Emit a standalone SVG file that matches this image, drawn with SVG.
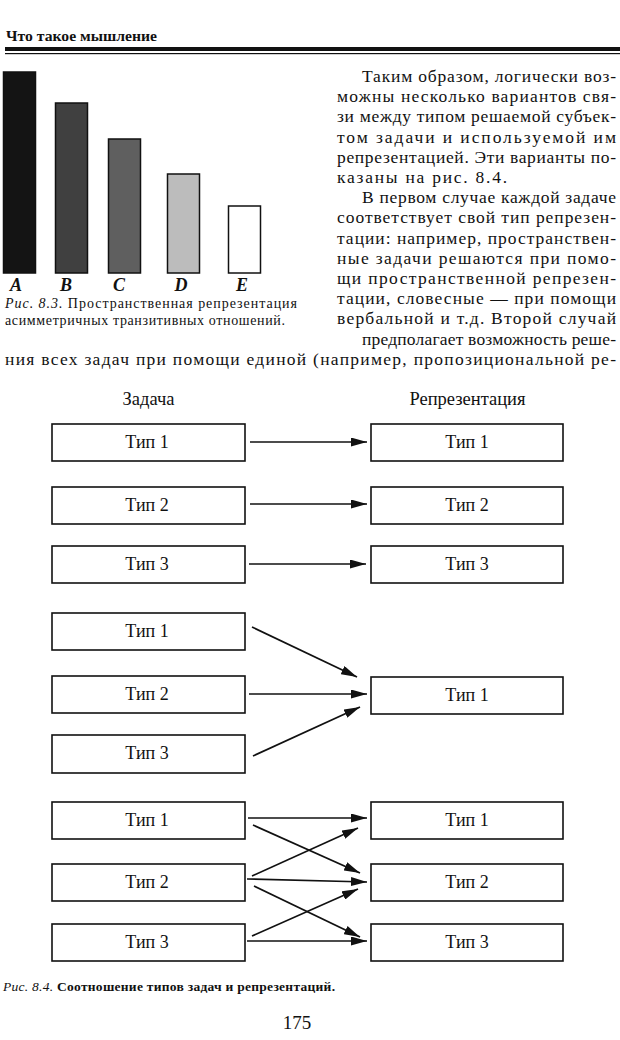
<svg xmlns="http://www.w3.org/2000/svg" width="620" height="1040" viewBox="0 0 620 1040">
<style>
.t{font-family:"Liberation Serif","DejaVu Serif",serif;fill:#111;}
.body{font-size:17.5px;}
.box{fill:#fff;stroke:#111;stroke-width:1.6;}
.lbl{font-size:18px;text-anchor:middle;}
.hdr{font-size:18.5px;text-anchor:middle;}
.cap{font-size:14px;}
.cap2{font-size:13.5px;}
.bar{stroke:#111;stroke-width:1.5;}
.ltr{font-size:18px;font-weight:bold;font-style:italic;text-anchor:middle;}
.arr{stroke:#111;stroke-width:1.7;fill:none;marker-end:url(#ah);}
</style>
<defs>
<marker id="ah" markerUnits="userSpaceOnUse" markerWidth="17" markerHeight="9" refX="16" refY="4.5" orient="auto">
<path d="M0,0 L16,4.5 L0,9 z" fill="#111"/>
</marker>
</defs>
<rect x="0" y="0" width="620" height="1040" fill="#fff"/>

<g id="page-header">
<text class="t" x="6" y="41" font-size="15" font-weight="bold" textLength="151" lengthAdjust="spacingAndGlyphs">Что такое мышление</text>
<rect x="5" y="47" width="615" height="4" fill="#111"/>
<rect x="5" y="53" width="615" height="1.2" fill="#111"/>
</g>

<g id="fig83">
<rect class="bar" x="3.5" y="72" width="32" height="201" fill="#141414"/>
<rect class="bar" x="55.5" y="103" width="32" height="170" fill="#404040"/>
<rect class="bar" x="108.5" y="139" width="32" height="134" fill="#5f5f5f"/>
<rect class="bar" x="167.5" y="174" width="32" height="99" fill="#bcbcbc"/>
<rect class="bar" x="228.5" y="206" width="32" height="67" fill="#fff"/>
<text class="t ltr" x="16" y="291">A</text>
<text class="t ltr" x="66" y="291">B</text>
<text class="t ltr" x="119" y="291">C</text>
<text class="t ltr" x="181" y="291">D</text>
<text class="t ltr" x="242" y="291">E</text>
<text class="t cap" x="5" y="308" textLength="292" lengthAdjust="spacing"><tspan font-style="italic">Рис. 8.3.</tspan> Пространственная репрезентация</text>
<text class="t cap" x="5" y="325" textLength="280" lengthAdjust="spacing">асимметричных транзитивных отношений.</text>
</g>

<g id="body-text">
<text class="t body" x="362" y="82" textLength="254" lengthAdjust="spacing">Таким образом, логически воз-</text>
<text class="t body" x="337" y="102.2" textLength="279" lengthAdjust="spacing">можны несколько вариантов свя-</text>
<text class="t body" x="337" y="122.4" textLength="279" lengthAdjust="spacing">зи между типом решаемой субъек-</text>
<text class="t body" x="337" y="142.6" textLength="279" lengthAdjust="spacing">том задачи и используемой им</text>
<text class="t body" x="337" y="162.8" textLength="279" lengthAdjust="spacing">репрезентацией. Эти варианты по-</text>
<text class="t body" x="337" y="183" textLength="170" lengthAdjust="spacing">казаны на рис. 8.4.</text>
<text class="t body" x="362" y="203.2" textLength="254" lengthAdjust="spacing">В первом случае каждой задаче</text>
<text class="t body" x="337" y="223.4" textLength="279" lengthAdjust="spacing">соответствует свой тип репрезен-</text>
<text class="t body" x="337" y="243.6" textLength="279" lengthAdjust="spacing">тации: например, пространствен-</text>
<text class="t body" x="337" y="263.8" textLength="279" lengthAdjust="spacing">ные задачи решаются при помо-</text>
<text class="t body" x="337" y="284" textLength="279" lengthAdjust="spacing">щи пространственной репрезен-</text>
<text class="t body" x="337" y="304.2" textLength="279" lengthAdjust="spacing">тации, словесные — при помощи</text>
<text class="t body" x="337" y="324.4" textLength="279" lengthAdjust="spacing">вербальной и т.д. Второй случай</text>
<text class="t body" x="362" y="344.6" textLength="254" lengthAdjust="spacing">предполагает возможность реше-</text>
<text class="t body" x="5" y="364.8" textLength="611" lengthAdjust="spacing">ния всех задач при помощи единой (например, пропозициональной ре-</text>
</g>

<g id="col-headers">
<text class="t hdr" x="148.5" y="405">Задача</text>
<text class="t hdr" x="467.5" y="405">Репрезентация</text>
</g>

<g id="L1"><rect class="box" x="52" y="424" width="193" height="37"/><text class="t lbl" x="147" y="448">Тип 1</text></g>
<g id="L2"><rect class="box" x="52" y="487" width="193" height="37"/><text class="t lbl" x="147" y="511">Тип 2</text></g>
<g id="L3"><rect class="box" x="52" y="546" width="193" height="37"/><text class="t lbl" x="147" y="570">Тип 3</text></g>
<g id="R1"><rect class="box" x="371" y="424" width="192" height="37"/><text class="t lbl" x="467" y="448">Тип 1</text></g>
<g id="R2"><rect class="box" x="371" y="487" width="192" height="37"/><text class="t lbl" x="467" y="511">Тип 2</text></g>
<g id="R3"><rect class="box" x="371" y="546" width="192" height="37"/><text class="t lbl" x="467" y="570">Тип 3</text></g>

<g id="L4"><rect class="box" x="52" y="613" width="193" height="37"/><text class="t lbl" x="147" y="637">Тип 1</text></g>
<g id="L5"><rect class="box" x="52" y="676" width="193" height="37"/><text class="t lbl" x="147" y="700">Тип 2</text></g>
<g id="L6"><rect class="box" x="52" y="735" width="193" height="38"/><text class="t lbl" x="147" y="759">Тип 3</text></g>
<g id="R4"><rect class="box" x="371" y="677" width="192" height="37"/><text class="t lbl" x="467" y="701">Тип 1</text></g>

<g id="L7"><rect class="box" x="52" y="802" width="193" height="37"/><text class="t lbl" x="147" y="826">Тип 1</text></g>
<g id="L8"><rect class="box" x="52" y="864" width="193" height="37"/><text class="t lbl" x="147" y="888">Тип 2</text></g>
<g id="L9"><rect class="box" x="52" y="924" width="193" height="37"/><text class="t lbl" x="147" y="948">Тип 3</text></g>
<g id="R7"><rect class="box" x="371" y="802" width="192" height="37"/><text class="t lbl" x="467" y="826">Тип 1</text></g>
<g id="R8"><rect class="box" x="371" y="864" width="192" height="37"/><text class="t lbl" x="467" y="888">Тип 2</text></g>
<g id="R9"><rect class="box" x="371" y="924" width="192" height="37"/><text class="t lbl" x="467" y="948">Тип 3</text></g>

<g id="connectors">
<line class="arr" x1="250" y1="442" x2="367" y2="442"/>
<line class="arr" x1="250" y1="504" x2="367" y2="504"/>
<line class="arr" x1="249" y1="564" x2="366" y2="564"/>
<line class="arr" x1="252" y1="627" x2="357" y2="677"/>
<line class="arr" x1="249" y1="694" x2="367" y2="694"/>
<line class="arr" x1="253" y1="756" x2="360" y2="707"/>
<line class="arr" x1="248" y1="818" x2="367" y2="818"/>
<line class="arr" x1="253" y1="825" x2="360" y2="873"/>
<line class="arr" x1="252" y1="876" x2="358" y2="828"/>
<line class="arr" x1="247" y1="879" x2="367" y2="882"/>
<line class="arr" x1="254" y1="886" x2="360" y2="937"/>
<line class="arr" x1="252" y1="936" x2="358" y2="889"/>
<line class="arr" x1="247" y1="941" x2="367" y2="941"/>
</g>

<g id="fig84-caption">
<text class="t cap2" x="3" y="991" font-weight="bold" textLength="332" lengthAdjust="spacing"><tspan font-style="italic" font-weight="normal">Рис. 8.4.</tspan> Соотношение типов задач и репрезентаций.</text>
<text class="t" x="297" y="1029" font-size="19" text-anchor="middle">175</text>
</g>
</svg>
